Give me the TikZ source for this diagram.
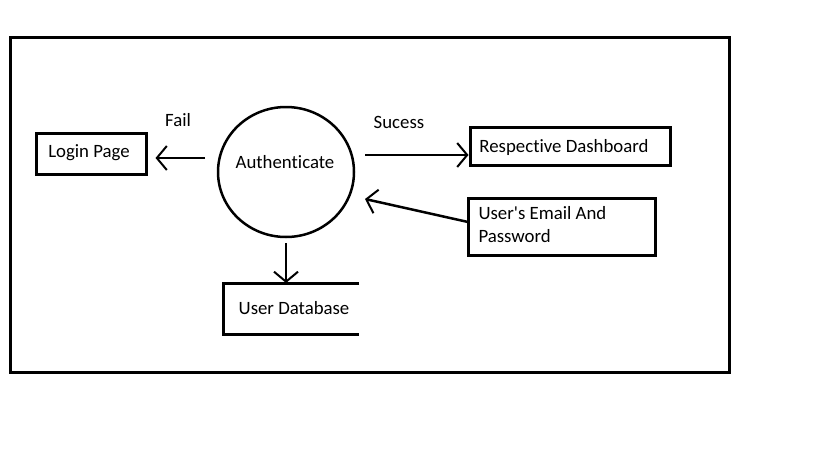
\documentclass[tikz,border=0pt]{standalone}
\usepackage{fontspec}
\setmainfont{Carlito}[Ligatures=CommonOff]
\usetikzlibrary{arrows.meta,shapes.geometric}
\newcommand{\apos}{\XeTeXglyph\XeTeXcharglyph"0027\relax}
\begin{document}
\begin{tikzpicture}[x=1pt,y=-1pt,
  lbl/.style={font=\fontsize{18.8}{23}\selectfont},
  arr/.style={line width=2.5pt,-{Straight Barb[length=10pt,width=24pt,line width=2pt]}}]
\useasboundingbox (0,0) rectangle (819,460);
\fill[white] (0,0) rectangle (819,460);
\draw[line width=3pt] (10,38) rectangle (729,372);
\node[draw,line width=3pt,minimum width=110pt,minimum height=41pt,inner sep=0pt] (login) at (91,153.5) {};
\node[lbl] at (89,153) {Login Page};
\node[draw,line width=3pt,minimum width=200pt,minimum height=38pt,inner sep=0pt] (dash) at (570,146) {};
\node[lbl] at (564,147) {Respective Dashboard};
\node[draw,line width=3pt,minimum width=187pt,minimum height=57pt,inner sep=0pt] (cred) at (561.5,226.5) {};
\node[lbl,align=left,anchor=west] at (475,225) {User\apos s Email And\\Password};
\node[draw,line width=2.5pt,ellipse,minimum width=136pt,minimum height=130pt,inner sep=0pt] (auth) at (286,172) {};
\node[lbl] at (285,162) {Authenticate};
\node[lbl] (fail) at (178,120) {Fail};
\node[lbl] (succ) at (399,122) {Sucess};
\coordinate (dbtl) at (223,283);
\coordinate (dbtr) at (359,283);
\coordinate (dbbl) at (223,334);
\coordinate (dbbr) at (359,334);
\draw[line width=3pt] (dbtr) -- (dbtl) -- (dbbl) -- (dbbr);
\node[lbl] (db) at (294,308) {User Database};
\coordinate (a1) at (205,158);
\coordinate (a2) at (365,155);
\coordinate (a3) at (468,222);
\coordinate (a4) at (365,199);
\coordinate (a5) at (286,243);
\draw[arr] (a1) -- ([xshift=8pt]a1 -| login.east);
\draw[arr] (a2) -- (a2 -| dash.west);
\draw[arr] (a3) -- (a4);
\draw[arr] (a5) -- (dbtl -| a5);
\end{tikzpicture}
\end{document}
